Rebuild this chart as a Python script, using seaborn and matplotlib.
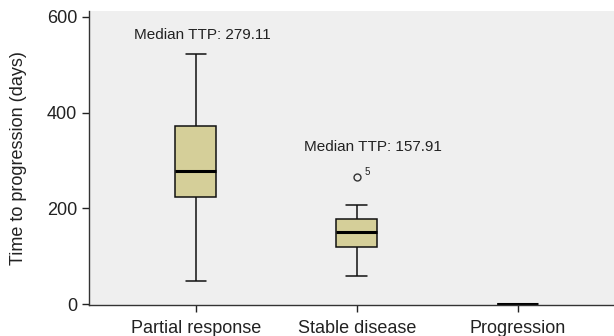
import numpy as np
import pandas as pd
import seaborn as sns
import matplotlib.pyplot as plt

# values (days)
categories = ["Partial response", "Stable disease", "Progression"]
partial_response = [48, 223, 278, 371, 522]
stable_disease = [59, 100, 120, 140, 151, 165, 177, 208, 266]
progression = [0, 0, 0]
median_labels = ["Median TTP: 279.11", "Median TTP: 157.91"]
outlier_case = "5"
y_ticks = [0, 200, 400, 600]

df = pd.DataFrame({
    "group": [categories[0]] * len(partial_response)
    + [categories[1]] * len(stable_disease)
    + [categories[2]] * len(progression),
    "ttp": partial_response + stable_disease + progression,
})

sns.set_style("white")
plt.rcParams['font.family'] = ['Liberation Sans', 'DejaVu Sans']

fig = plt.figure(figsize=(6.14, 3.36), dpi=100)
ax = fig.add_axes([0.145, 0.092, 0.855, 0.875])
ax.set_facecolor("#efefef")

sns.boxplot(data=df, x="group", y="ttp", order=categories, ax=ax,
            width=0.255, color="#d5cf99", saturation=1, linecolor="#111111",
            linewidth=1.1, medianprops=dict(linewidth=2.2, color="black"),
            flierprops=dict(marker="o", markerfacecolor="none",
                            markeredgecolor="#333333", markersize=5))

# annotations
ax.text(0.04, 562, median_labels[0], ha="center", va="center", fontsize=11, color="#222222")
ax.text(1.1, 329, median_labels[1], ha="center", va="center", fontsize=11, color="#222222")
ax.text(1.05, 275, outlier_case, ha="left", va="center", fontsize=7, color="#222222")

ax.set_xlim(-0.665, 2.6)
ax.set_ylim(-2, 612)
ax.set_yticks(y_ticks)
ax.set_xlabel("")
ax.set_ylabel("Time to progression (days)", fontsize=13, color="#222222", labelpad=14)
ax.tick_params(axis="both", labelsize=13, colors="#222222", direction="out",
               length=5, width=1, left=True, bottom=True)
ax.tick_params(axis="x", pad=6)

for side in ["top", "right"]:
    ax.spines[side].set_visible(False)
for side in ["left", "bottom"]:
    ax.spines[side].set_color("#333333")
    ax.spines[side].set_linewidth(1)

fig.savefig("out.png", dpi=100)
